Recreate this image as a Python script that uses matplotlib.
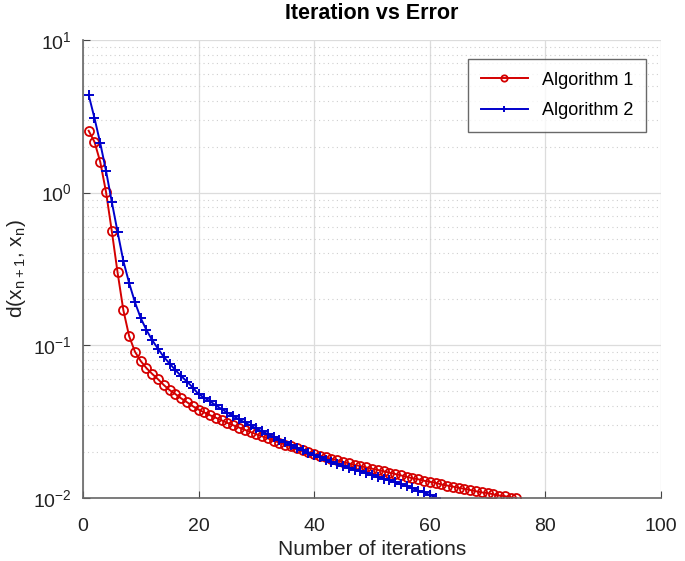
import numpy as np
import matplotlib
matplotlib.use("Agg")
import matplotlib.pyplot as plt

plt.rcParams['font.family'] = ['Liberation Sans', 'DejaVu Sans']
plt.rcParams['mathtext.default'] = 'regular'
plt.rcParams['axes.unicode_minus'] = False

# iterations for each algorithm
iters1 = list(range(1, 76))
iters2 = list(range(1, 62))

# error values
err1 = [2.54, 2.15, 1.59, 1.01, 0.56, 0.30, 0.17, 0.115, 0.091, 0.079,
        0.071, 0.065, 0.060, 0.055, 0.051, 0.048, 0.045, 0.0425, 0.040, 0.0380,
        0.0364, 0.0349, 0.0336, 0.0323, 0.0311, 0.0300, 0.0290, 0.0280, 0.0271, 0.0262,
        0.0254, 0.0246, 0.0238, 0.0231, 0.0224, 0.0218, 0.0212, 0.0206, 0.0200, 0.0194,
        0.0190, 0.0185, 0.0181, 0.0177, 0.0173, 0.0169, 0.0165, 0.0162, 0.0159, 0.0156,
        0.0153, 0.0150, 0.0147, 0.0144, 0.0141, 0.0138, 0.0135, 0.0133, 0.0130, 0.0128,
        0.0126, 0.0123, 0.0121, 0.0119, 0.0117, 0.0115, 0.0113, 0.0111, 0.0109, 0.0108,
        0.0106, 0.0104, 0.0103, 0.0101, 0.0100]

err2 = [4.36, 3.08, 2.11, 1.39, 0.87, 0.553, 0.357, 0.256, 0.192, 0.151,
        0.126, 0.108, 0.095, 0.084, 0.076, 0.069, 0.063, 0.058, 0.053, 0.048,
        0.0455, 0.0430, 0.0405, 0.0383, 0.0363, 0.0345, 0.0328, 0.0313, 0.0299, 0.0286,
        0.0274, 0.0262, 0.0251, 0.0241, 0.0232, 0.0223, 0.0214, 0.0206, 0.0198, 0.0191,
        0.0185, 0.0179, 0.0173, 0.0167, 0.0162, 0.0158, 0.0154, 0.0150, 0.0146, 0.0142,
        0.0138, 0.0134, 0.0131, 0.0127, 0.0123, 0.0120, 0.0116, 0.0112, 0.0109, 0.0105,
        0.0101]

labels = ["Algorithm 1", "Algorithm 2"]

red  = "#d40000"
blue = "#0000cc"

fig = plt.figure(figsize=(6.85, 5.61), dpi=100)
ax = fig.add_axes([0.121, 0.112, 0.844, 0.817])

ax.semilogy(iters1, err1, color=red, marker='o', markersize=6.5, markerfacecolor='none',
            markeredgewidth=1.3, linewidth=1.4, label=labels[0])
ax.semilogy(iters2, err2, color=blue, marker='+', markersize=7, markeredgewidth=1.4,
            linewidth=1.4, label=labels[1])

ax.set_xlim(0, 100)
ax.set_ylim(1e-2, 1e1)
ax.set_xticks([0, 20, 40, 60, 80, 100])

ax.grid(True, which='major', color='#dcdcdc', linewidth=0.9, linestyle='-')
ax.grid(True, which='minor', axis='y', color='#cfcfcf', linewidth=0.8, linestyle=(0, (1, 3)))
ax.set_axisbelow(True)

ax.spines['top'].set_visible(False)
ax.spines['right'].set_visible(False)
for side in ['left', 'bottom']:
    ax.spines[side].set_color('#666666')
    ax.spines[side].set_linewidth(1.2)
ax.tick_params(which='both', direction='in', colors='#444444',
               labelsize=14, labelcolor='#222222')
ax.tick_params(axis='x', pad=14)
ax.tick_params(axis='y', pad=8)
ax.tick_params(which='minor', length=0)
ax.tick_params(which='major', length=5)

ax.set_title("Iteration vs Error", fontsize=15.5, fontweight='bold', pad=15)
ax.set_xlabel("Number of iterations", fontsize=15, color='#222222', labelpad=4)
ax.set_ylabel(r"d(x$_{n+1}$, x$_n$)", fontsize=15, color='#222222', labelpad=4)

leg = ax.legend(loc='upper right', fontsize=13, frameon=True, fancybox=False,
                edgecolor='#444444', borderpad=0.7, handlelength=2.6, labelspacing=0.75,
                handletextpad=0.8, borderaxespad=0.0,
                bbox_to_anchor=(0.974, 0.958), markerscale=0.7)
leg.get_frame().set_linewidth(1.0)

fig.savefig("out.png", dpi=100)
